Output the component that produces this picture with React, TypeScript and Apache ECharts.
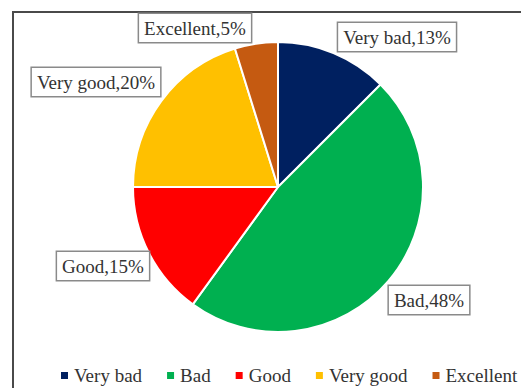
import React, { useEffect, useRef } from "react";
import * as echarts from "echarts";

const categories = ["Very bad", "Bad", "Good", "Very good", "Excellent"];
const values = [12.5, 47.5, 15, 20.2, 4.8];
const colors = ["#002060", "#00B050", "#FF0000", "#FFC000", "#C55A11"];
// label box centres (pixels)
const labelCenters: [number, number][] = [
  [397, 37],
  [429, 300],
  [103, 266],
  [96, 82],
  [195, 28],
];

const FONT = "Times New Roman";

export default function App() {
  const ref = useRef<HTMLDivElement>(null);
  useEffect(() => {
    if (!ref.current) return;
    const chart = echarts.init(ref.current, undefined, { renderer: "svg" });
    chart.setOption({
      animation: false,
      backgroundColor: "#fff",
      color: colors,
      textStyle: { fontFamily: FONT },
      graphic: [
        {
          type: "rect",
          z: 0,
          shape: { x: 13, y: 12, width: 600, height: 420 },
          style: { fill: "none", stroke: "#4a4a4a", lineWidth: 2 },
        },
      ],
      legend: {
        left: 54,
        top: 361,
        itemGap: 23,
        itemWidth: 9,
        itemHeight: 9,
        icon: "rect",
        textStyle: { fontSize: 19, fontFamily: FONT, color: "#333" },
        data: categories,
      },
      series: [
        {
          type: "pie",
          z: 2,
          center: [278, 187],
          radius: 145,
          startAngle: 90,
          clockwise: true,
          itemStyle: { borderColor: "#fff", borderWidth: 2 },
          label: {
            show: true,
            position: "inside",
            formatter: (p: any) => `${p.name},${Math.round(p.value)}%`,
            fontSize: 19,
            fontFamily: FONT,
            color: "#333",
            backgroundColor: "#fff",
            borderColor: "#8a8a8a",
            borderWidth: 1.5,
            padding: [5, 5, 4, 5],
          },
          labelLine: { show: false },
          labelLayout: (params: any) => {
            const c = labelCenters[params.dataIndex];
            return { x: c[0], y: c[1], align: "center", verticalAlign: "middle" };
          },
          emphasis: { disabled: true },
          data: categories.map((name, i) => ({ name, value: values[i] })),
        },
      ],
    });
    return () => chart.dispose();
  }, []);
  return (
    <div
      style={{
        position: "fixed",
        left: 0,
        top: 0,
        width: 521,
        height: 388,
        overflow: "hidden",
        background: "#fff",
      }}
    >
      <div ref={ref} style={{ width: 580, height: 388 }} />
    </div>
  );
}
